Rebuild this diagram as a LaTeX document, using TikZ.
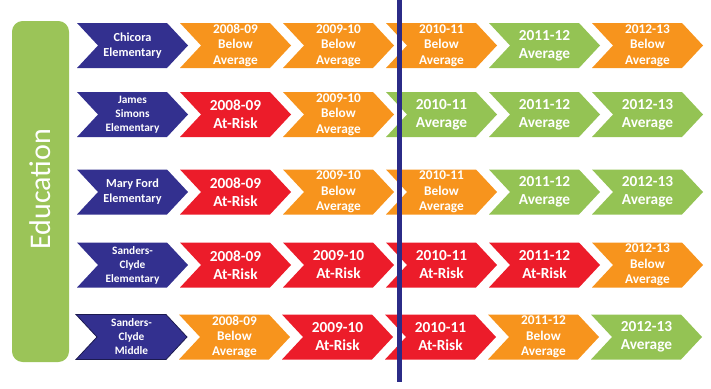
\documentclass[tikz,border=0pt]{standalone}
\usepackage{fontspec}
\setmainfont{Carlito}
\usepackage{tikz}
\usetikzlibrary{positioning}
\definecolor{navyC}{RGB}{51,48,143}
\definecolor{orangeC}{RGB}{247,148,29}
\definecolor{redC}{RGB}{236,28,42}
\definecolor{greenC}{RGB}{148,195,84}
\definecolor{barC}{RGB}{155,196,88}
\definecolor{lineC}{RGB}{43,43,135}
\tikzset{
  chevtxt/.style={text=white,align=center,inner sep=0pt},
  txtN/.style={font=\fontsize{9.2}{11.2}\selectfont\bfseries},
  txtNs/.style={font=\fontsize{8.5}{10.5}\selectfont\bfseries},
  txtS/.style={font=\fontsize{10}{11.5}\selectfont\bfseries},
  txtL/.style={font=\fontsize{11.5}{13.5}\selectfont\bfseries},
}
% chevron: name, left x, centre y, fill, text style, text
\newcommand{\chev}[6]{%
  \fill[#4] (#2,#3-22.5) -- ++(90,0) -- ++(21,22.5) -- ++(-21,22.5) -- ++(-90,0) -- ++(21,-22.5) -- cycle;
  \node[chevtxt,#5] (#1) at (#2+55.5,#3) {#6};
}
\begin{document}
\begin{tikzpicture}[x=0.75pt,y=-0.75pt]
  \useasboundingbox (0,0) rectangle (711,389);
  \fill[barC,rounded corners=8] (12,21) rectangle (69,362);
  \node[rotate=90,text=white,font=\fontsize{22.5}{27}\selectfont] (edu) at (40,189) {Education};
  % Chicora
  \chev{s1}{77}{45.5}{navyC}{txtN}{Chicora\\Elementary}
  \chev{s1a}{180}{45.5}{orangeC}{txtS}{2008-09\\Below\\Average}
  \chev{s1b}{283}{45.5}{orangeC}{txtS}{2009-10\\Below\\Average}
  \chev{s1c}{386}{45.5}{orangeC}{txtS}{2010-11\\Below\\Average}
  \chev{s1d}{489}{45.5}{greenC}{txtL}{2011-12\\Average}
  \chev{s1e}{592}{45.5}{orangeC}{txtS}{2012-13\\Below\\Average}
  % James Simons
  \chev{s2}{77}{114.5}{navyC}{txtNs}{James\\Simons\\Elementary}
  \chev{s2a}{180}{114.5}{redC}{txtL}{2008-09\\At-Risk}
  \chev{s2b}{283}{114.5}{orangeC}{txtS}{2009-10\\Below\\Average}
  \chev{s2c}{386}{114.5}{greenC}{txtL}{2010-11\\Average}
  \chev{s2d}{489}{114.5}{greenC}{txtL}{2011-12\\Average}
  \chev{s2e}{592}{114.5}{greenC}{txtL}{2012-13\\Average}
  % Mary Ford
  \chev{s3}{77}{192}{navyC}{txtN}{Mary Ford\\Elementary}
  \chev{s3a}{180}{192}{redC}{txtL}{2008-09\\At-Risk}
  \chev{s3b}{283}{192}{orangeC}{txtS}{2009-10\\Below\\Average}
  \chev{s3c}{386}{192}{orangeC}{txtS}{2010-11\\Below\\Average}
  \chev{s3d}{489}{192}{greenC}{txtL}{2011-12\\Average}
  \chev{s3e}{592}{192}{greenC}{txtL}{2012-13\\Average}
  % Sanders-Clyde Elementary
  \chev{s4}{77}{265}{navyC}{txtNs}{Sanders-\\Clyde\\Elementary}
  \chev{s4a}{180}{265}{redC}{txtL}{2008-09\\At-Risk}
  \chev{s4b}{283}{265}{redC}{txtL}{2009-10\\At-Risk}
  \chev{s4c}{386}{265}{redC}{txtL}{2010-11\\At-Risk}
  \chev{s4d}{489}{265}{redC}{txtL}{2011-12\\At-Risk}
  \chev{s4e}{592}{265}{orangeC}{txtS}{2012-13\\Below\\Average}
  % Sanders-Clyde Middle
  \chev{s5}{76}{337}{navyC,draw=navyC!55!black,line width=0.6pt}{txtNs}{Sanders-\\Clyde\\Middle}
  \chev{s5a}{179}{337}{orangeC}{txtS}{2008-09\\Below\\Average}
  \chev{s5b}{282}{337}{redC}{txtL}{2009-10\\At-Risk}
  \chev{s5c}{385}{337}{redC}{txtL}{2010-11\\At-Risk}
  \chev{s5d}{488}{337}{orangeC}{txtS}{2011-12\\Below\\Average}
  \chev{s5e}{591}{337}{greenC}{txtL}{2012-13\\Average}
  % marker line
  \coordinate (cutTop) at (399.5,0);
  \coordinate (cutBot) at (399.5,382);
  \draw[lineC,line width=3.4pt] (cutTop) -- (cutBot);
\end{tikzpicture}
\end{document}
